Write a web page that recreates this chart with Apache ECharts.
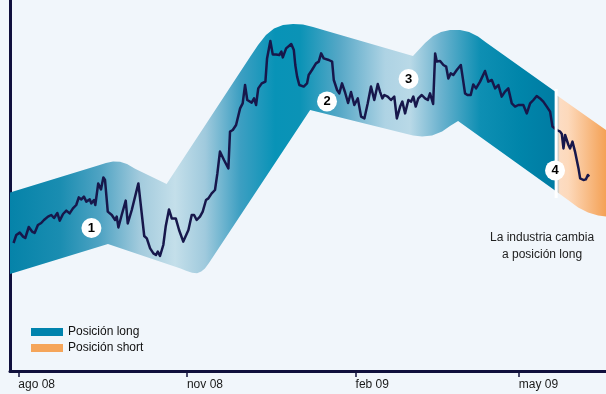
<!DOCTYPE html>
<html><head><meta charset="utf-8">
<script src="https://cdn.jsdelivr.net/npm/echarts@6/dist/echarts.min.js"></script>
<style>html,body{margin:0;padding:0;background:#f1f6fb}#c{width:606px;height:394px}</style>
</head><body><div id="c"></div>
<script>
// x = days since 1 Aug 2008, y = index level
const tickDays = [0, 92, 184, 273];
const tickLabels = ['ago 08', 'nov 08', 'feb 09', 'may 09'];

const priceLine = [[-2.6,64.5],[-1.1,68.5],[0.8,69.7],[2.6,67.7],[3.8,67],[5.7,72.5],[7.5,70.2],[8.9,69.5],[10.7,73.5],[12.5,74.5],[14.0,76],[16.2,77.7],[18.0,78.5],[19.5,77],[21.3,79.5],[22.6,75.7],[24.4,79],[26.2,80.7],[28.0,79.3],[29.8,81.8],[31.6,83.5],[33.0,87.3],[34.4,86.3],[35.8,87.7],[37.1,85.2],[39.0,86.3],[39.8,84.3],[41.3,86],[42.0,83.5],[43.6,94.3],[45.1,91.3],[46.4,97.3],[47.3,96],[48.8,80.2],[51.0,78.5],[52.8,76],[53.7,77.7],[54.6,72.3],[56.4,78.5],[58.6,85.7],[59.7,74.3],[61.9,81],[65.5,94.3],[68.7,68],[70.1,66.8],[71.9,61.8],[73.7,59.3],[75.1,58.5],[76.1,60.2],[77.3,58],[79.1,63.5],[80.4,72.7],[82.2,81.3],[83.7,76.8],[85.9,76.8],[87.7,71],[90.0,65.2],[92.8,71],[94.6,78.5],[95.9,78.5],[97.3,76],[99.1,77.7],[100.6,80.2],[102.4,86],[103.7,86.8],[105.5,89.3],[107.3,91],[108.6,99.3],[110.0,110.2],[112.2,106],[114.6,101.8],[115.5,120.2],[117.0,121],[118.8,123.5],[121.0,131.8],[122.4,134.3],[123.7,143.5],[124.9,136],[127.3,134.7],[128.6,136.8],[129.7,133.5],[130.9,141.8],[132.8,144.3],[134.8,145.2],[135.7,156.8],[137.5,165.5],[138.8,158.8],[140.6,158.8],[142.4,158.5],[143.5,160.2],[144.3,157.3],[146.1,161.8],[148.9,164],[150.3,161],[151.1,153.5],[152.1,147.7],[153.3,143.5],[155.7,142.7],[157.5,144.3],[158.4,148.5],[160.2,151],[162.4,154.3],[163.9,155.2],[165.2,159.3],[166.6,156.8],[169.4,156],[171.2,155.2],[172.1,146],[173.9,141],[175.1,139.3],[176.6,144.3],[178.2,140],[179.9,134.5],[181.5,140],[183.3,133.5],[185.2,136.8],[187.0,127.7],[188.8,126.8],[190.6,134.3],[192.4,142.7],[194.2,136],[196.1,144],[197.3,140.2],[198.6,136.8],[199.7,138.5],[201.5,137.7],[203.3,136],[205.1,137.7],[206.5,126.8],[208.3,132.7],[209.5,135.2],[211.0,129.3],[212.8,136],[214.3,135.2],[215.5,137.7],[216.8,132.7],[218.2,136.8],[220.1,138.5],[221.9,136.8],[223.4,136],[224.6,139.3],[226.3,134],[227.4,159.3],[228.3,155.2],[230.1,155.5],[231.9,153.5],[233.4,152.7],[234.6,146.8],[235.9,149.3],[237.3,148.5],[239.2,151],[241.4,153.5],[242.5,146.8],[243.7,139.3],[245.0,138.5],[246.8,138.5],[248.2,143.8],[249.7,141.8],[251.9,145.2],[254.6,150.5],[256.4,145.2],[258.3,146],[260.1,141.8],[261.9,143.5],[263.7,137.7],[265.5,140.2],[267.3,141.8],[269.2,134.3],[271.0,132.7],[272.8,133.5],[273.7,132.7],[275.5,133.5],[277.4,129.3],[279.2,134.3],[281.0,136],[282.8,138],[284.6,136.8],[286.4,135.2],[288.3,132.7],[289.2,133.5],[290.1,130.2],[291.4,122.7],[293.8,121],[295.6,120.2],[296.5,119],[297.4,111.8],[298.3,118.5],[299.2,119.3],[300.1,113.5],[301.0,111.8],[302.3,115.2],[303.7,110.2],[305.6,101.8],[306.5,96.8],[308.3,96],[309.6,96.3],[310.7,98.5],[311.4,97.7]];

const bandLongTop = [[-4.53,89.8],[43.5,103.3],[47.8,104.5],[51.7,105.3],[55.5,105.1],[59.3,104],[63.7,101.6],[80.9,94],[126.4,157.5],[130.8,163.5],[135.1,168.5],[139.5,171.8],[144.4,173.5],[149.9,174],[155.3,173.8],[160.8,172.5],[167.3,170.8],[215.3,158],[221.9,164.5],[226.3,168],[230.6,170],[235.5,171],[241.0,171],[245.9,170],[250.8,167.8],[255.2,164.7],[292.8,140.2]];
const bandLongBottom = [[-4.53,49],[48.9,64],[88.5,51.8],[91.5,50.6],[94.8,49.6],[97.5,49.4],[99.8,50.2],[101.8,51.8],[104.0,54.5],[159.2,131],[215.3,118.3],[220.3,117.8],[225.7,118.3],[231.2,120.3],[235.5,123],[239.9,125.5],[292.8,90.8]];
const bandShortTop = [[293.9,138.3],[320.6,121]];
const bandShortBottom = [[293.9,90],[299.9,86],[305.4,82.3],[310.8,79.8],[316.3,78.3],[320.6,77.8]];

const switchDay = 293.4;
const switchRange = [87, 141.5];

const markers = [[39.9,72,'1'],[168.4,135.3,'2'],[212.9,146.5,'3'],[292.8,100.8,'4']];

const longStops = [[-4.5,'#0583a9'],[22.8,'#1a8db1'],[44.6,'#4fa3c3'],[66.4,'#a3cbdd'],[85.5,'#c4dfea'],[101.9,'#a0cadd'],[121,'#3d9fc2'],[140.1,'#0893b7'],[153.7,'#0b93b6'],[175.5,'#57a8c7'],[200.1,'#aed3e4'],[213.7,'#b9d9e7'],[230.1,'#6db3cf'],[251.9,'#0e8fb3'],[273.7,'#0085aa'],[292.8,'#007ca3']];
const shortStops = [[293.9,'#9fbcc8'],[295.3,'#fcdcc3'],[300,'#fdd9bb'],[320.6,'#f4a155']];

const FONT = '"Liberation Sans", Arial, sans-serif';
const NAVY = '#10103d';

function bandRenderer(top, bottom, stops) {
  return function (params, api) {
    const pts = top.map(p => api.coord(p)).concat(bottom.slice().reverse().map(p => api.coord(p)));
    const d0 = stops[0][0], d1 = stops[stops.length - 1][0];
    const x0 = api.coord([d0, 0])[0], x1 = api.coord([d1, 0])[0];
    const grad = new echarts.graphic.LinearGradient(x0, 0, x1, 0,
      stops.map(s => ({offset: (s[0] - d0) / (d1 - d0), color: s[1]})), true);
    return {type: 'polygon', shape: {points: pts}, style: {fill: grad}};
  };
}

const chart = echarts.init(document.getElementById('c'), null, {renderer: 'canvas'});
chart.setOption({
  animation: false,
  backgroundColor: '#f1f6fb',
  grid: {left: 10, right: 0, top: 0, bottom: 23},
  xAxis: {
    type: 'value', min: -4.53, max: 320.6,
    splitLine: {show: false},
    axisLine: {show: true, lineStyle: {color: NAVY, width: 3}},
    axisTick: {show: true, customValues: tickDays, length: 6, lineStyle: {color: NAVY, width: 1.5}},
    axisLabel: {
      customValues: tickDays, formatter: v => tickLabels[tickDays.indexOf(v)],
      align: 'left', margin: 8, fontSize: 12, color: '#1a1a1a', fontFamily: FONT
    }
  },
  yAxis: {
    type: 'value', min: 0.5, max: 186,
    splitLine: {show: false}, axisTick: {show: false}, axisLabel: {show: false},
    axisLine: {show: true, onZero: false, lineStyle: {color: NAVY, width: 3}}
  },
  legend: {
    left: 26, top: 320, orient: 'vertical', itemWidth: 32, itemHeight: 8, itemGap: 2,
    icon: 'rect', selectedMode: false,
    textStyle: {fontSize: 12, color: '#111', fontFamily: FONT, lineHeight: 14},
    data: ['Posición long', 'Posición short']
  },
  graphic: [{
    type: 'text', left: 490, top: 229,
    style: {text: 'La industria cambia\na posición long', font: '12px ' + FONT, fill: '#222', textAlign: 'center', lineHeight: 17, x: 58}
  }],
  series: [
    {name: 'Posición long', type: 'custom', z: 1, clip: false, itemStyle: {color: '#0083ad'},
     renderItem: bandRenderer(bandLongTop, bandLongBottom, longStops), data: [[0, 0]]},
    {name: 'Posición short', type: 'custom', z: 1, clip: false, itemStyle: {color: '#f5a55a'},
     renderItem: bandRenderer(bandShortTop, bandShortBottom, shortStops), data: [[0, 0]]},
    {type: 'custom', z: 4, clip: false,
     renderItem: function (params, api) {
       const a = api.coord([switchDay, switchRange[0]]), b = api.coord([switchDay, switchRange[1]]);
       return {type: 'line', shape: {x1: a[0], y1: a[1], x2: b[0], y2: b[1]}, style: {stroke: '#ffffff', lineWidth: 3}};
     }, data: [[0, 0]]},
    {type: 'line', z: 3, data: priceLine, symbol: 'none', smooth: false,
     lineStyle: {color: '#17174b', width: 2.5, join: 'round'}},
    {type: 'scatter', z: 6, data: markers, symbol: 'circle', symbolSize: 20,
     itemStyle: {color: '#ffffff', opacity: 1},
     label: {show: true, position: 'inside', formatter: p => p.value[2], fontSize: 13, fontWeight: 'bold', color: '#000', fontFamily: FONT}}
  ]
});
</script></body></html>
